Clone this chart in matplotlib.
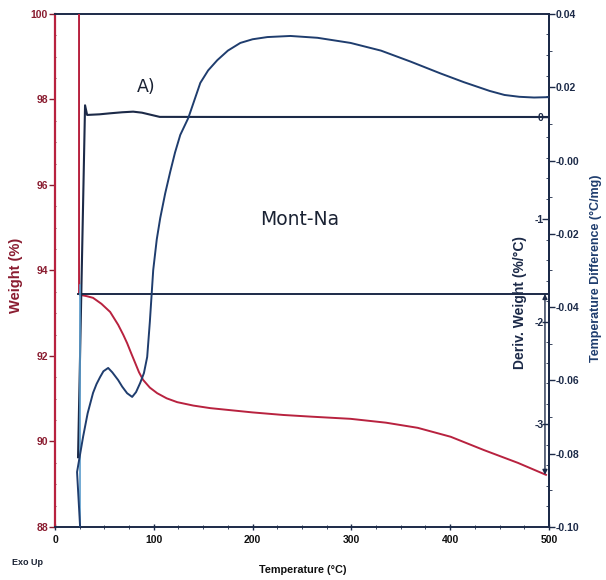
import matplotlib
matplotlib.use('agg')
import matplotlib.pyplot as plt
from matplotlib.font_manager import FontProperties
from matplotlib.ticker import MultipleLocator, FormatStrFormatter

# TGA weight curve (%), vs temperature (C)
temp_w = [24.3, 24.3, 25.4, 32.0, 38.5, 47.0, 55.8, 63.9, 69.0, 73.0, 77.0, 81.1, 85.0,
          89.2, 96.0, 103.4, 113.0, 123.7, 140.0, 157.2, 200.0, 231.2, 260.0, 299.2,
          335.0, 367.1, 400.6, 434.1, 468.6, 497.0]
weight = [100.0, 93.45, 93.43, 93.40, 93.36, 93.22, 93.03, 92.73, 92.50, 92.30, 92.07,
          91.84, 91.62, 91.44, 91.26, 91.13, 91.01, 90.92, 90.84, 90.78, 90.68, 90.62,
          90.58, 90.53, 90.44, 90.32, 90.11, 89.80, 89.50, 89.22]

# DTG curve (%/C)
temp_d = [23.3, 30.4, 32.5, 45.0, 55.8, 68.0, 79.1, 88.0, 95.0, 106.0, 200.0, 300.0, 400.0, 500.0]
deriv = [-3.32, 0.11, 0.016, 0.022, 0.032, 0.042, 0.048, 0.038, 0.022, -0.003, -0.004, -0.004,
         -0.004, -0.004]

# DTA curve (C/mg)
temp_t = [25.4, 25.4, 22.3, 28.4, 33.0, 38.5, 42.0, 45.6, 49.0, 53.8, 58.0, 63.9, 68.0,
          73.0, 78.1, 82.0, 86.2, 90.0, 93.3, 96.0, 99.4, 103.0, 106.5, 111.5, 116.6,
          121.5, 126.8, 134.9, 147.1, 155.0, 164.3, 175.0, 187.6, 200.0, 215.0, 238.3,
          265.7, 299.2, 330.0, 360.0, 390.0, 413.8, 440.0, 455.0, 470.0, 485.0, 499.0]
tdiff = [-0.034, -0.100, -0.085, -0.0754, -0.0690, -0.0634, -0.0610, -0.0591, -0.0575,
         -0.0566, -0.0578, -0.0599, -0.0617, -0.0635, -0.0645, -0.0632, -0.0607, -0.0580,
         -0.0536, -0.0440, -0.0299, -0.0215, -0.0157, -0.0090, -0.0031, 0.0022, 0.0070,
         0.0116, 0.0212, 0.0246, 0.0274, 0.0300, 0.0321, 0.0331, 0.0337, 0.0340, 0.0335,
         0.0321, 0.0300, 0.0270, 0.0238, 0.0214, 0.0190, 0.0179, 0.0174, 0.0172, 0.0173]

red = '#b8223f'
maroon = '#8a1c30'
navy = '#1c2a48'
blue = '#1f3d6e'
light_blue = '#5a9ccc'
tickfont = dict(family='Liberation Sans', weight='bold', size=7.5)

fig = plt.figure(figsize=(6.06, 5.80), dpi=100)
ax = fig.add_axes([0.0908, 0.0914, 0.815, 0.8845])
ax2 = ax.twinx()
ax3 = ax.twinx()

# weight
ax.plot(temp_w, weight, color=red, lw=1.4, zorder=3)
ax.set_xlim(0, 500)
ax.set_ylim(88, 100)
ax.yaxis.set_major_locator(MultipleLocator(2))
ax.yaxis.set_minor_locator(MultipleLocator(0.5))
ax.xaxis.set_major_locator(MultipleLocator(100))
ax.xaxis.set_minor_locator(MultipleLocator(25))
ax.tick_params(axis='y', which='major', length=4, width=1, colors=maroon, direction='out', pad=1)
ax.tick_params(axis='y', which='minor', length=2, color=maroon, direction='inout')
ax.tick_params(axis='x', which='major', length=5, width=1, colors=navy, direction='inout', pad=3)
ax.tick_params(axis='x', which='minor', length=3, color=navy, direction='inout')
ax.tick_params(axis='x', labelcolor='#111111')
for lbl in ax.get_yticklabels() + ax.get_xticklabels():
    lbl.set_fontproperties(FontProperties(**tickfont))
ax.spines['left'].set_color(red)
ax.spines['left'].set_linewidth(1.6)
for s in ['top', 'bottom', 'right']:
    ax.spines[s].set_color(navy)
    ax.spines[s].set_linewidth(1.4)
ax.set_ylabel('Weight (%)', color=maroon, fontsize=10.5, fontweight='bold',
              family='Liberation Sans')
ax.yaxis.set_label_coords(-0.064, 0.49)
fig.text(0.50, 0.018, 'Temperature (°C)', fontsize=7.8, fontweight='bold',
         family='Liberation Sans', color='#111111', ha='center', va='center')

# weight-step marker: horizontal at the onset weight, arrow down to the final weight
ax.plot([23.5, 500], [weight[1], weight[1]], color=navy, lw=1.4, zorder=3)
ax.annotate('', xy=(496, weight[-1]), xytext=(496, weight[1]),
            arrowprops=dict(arrowstyle='<|-|>', color=navy, lw=1.0,
                            mutation_scale=7, shrinkA=0, shrinkB=0))

ax.text(92, 98.3, 'A)', fontsize=12.5, color='#1a2233', family='DejaVu Sans',
        ha='center', va='center')
ax.text(248, 95.2, 'Mont-Na', fontsize=13.5, color='#1a2233', family='DejaVu Sans',
        ha='center', va='center')
fig.text(0.046, 0.026, 'Exo Up', fontsize=6.5, fontweight='bold', family='Liberation Sans',
         color='#1a2233', ha='center')

# derivative weight, labels inside the right spine
ax2.plot(temp_d, deriv, color=navy, lw=1.5, zorder=3)
ax2.set_ylim(-4, 1)
ax2.set_yticks([-3, -2, -1, 0])
ax2.yaxis.set_major_formatter(FormatStrFormatter('%d'))
ax2.yaxis.set_minor_locator(MultipleLocator(0.2))
ax2.tick_params(axis='y', which='major', direction='in', length=5, width=1,
                colors=navy, pad=-4)
ax2.tick_params(axis='y', which='minor', direction='in', length=2, color=navy)
for lbl in ax2.get_yticklabels():
    lbl.set_fontproperties(FontProperties(**tickfont))
    lbl.set_ha('right')
ax2.set_ylabel('Deriv. Weight (%/°C)', fontsize=10, fontweight='bold',
               family='Liberation Sans', color=navy)
ax2.yaxis.set_label_coords(0.928, 0.437)
for s in ['top', 'bottom', 'left', 'right']:
    ax2.spines[s].set_visible(False)

# temperature difference; the initial drop is drawn lighter
ax3.plot(temp_t[:2], tdiff[:2], color=light_blue, lw=1.2, zorder=3)
ax3.plot(temp_t[1:], tdiff[1:], color=blue, lw=1.4, zorder=3)
ax3.set_ylim(-0.10, 0.04)
ax3.yaxis.set_major_locator(MultipleLocator(0.02))
ax3.yaxis.set_minor_locator(MultipleLocator(0.01))
ax3.yaxis.set_major_formatter(FormatStrFormatter('%.2f'))
ax3.tick_params(axis='y', which='major', direction='out', length=4, width=1,
                colors=navy, pad=1)
ax3.tick_params(axis='y', which='minor', direction='out', length=2, color=navy)
for lbl in ax3.get_yticklabels():
    lbl.set_fontproperties(FontProperties(**tickfont))
ax3.set_ylabel('Temperature Difference (°C/mg)', fontsize=9, fontweight='bold',
               family='Liberation Sans', color=blue)
ax3.yaxis.set_label_coords(1.083, 0.505)
for s in ['top', 'bottom', 'left']:
    ax3.spines[s].set_visible(False)
ax3.spines['right'].set_color(navy)
ax3.spines['right'].set_linewidth(1.4)

fig.savefig('out.png', dpi=100)
